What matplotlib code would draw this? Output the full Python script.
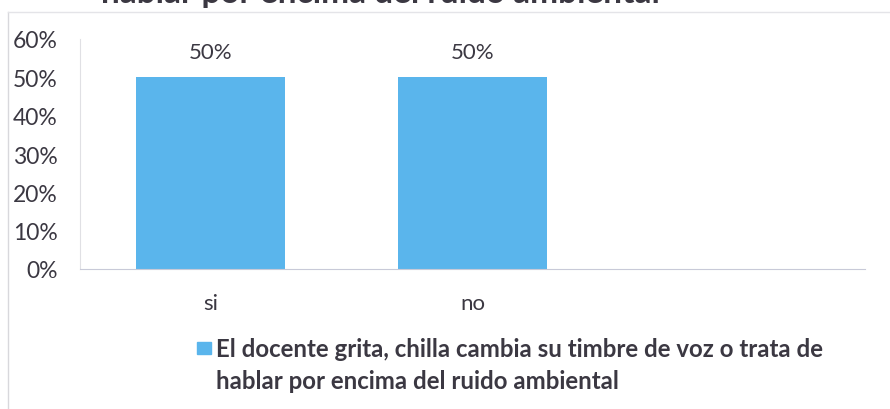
import matplotlib.pyplot as plt
from matplotlib.lines import Line2D
from matplotlib.patches import Rectangle

categories = ["si", "no", ""]
values = [0.50, 0.50, 0.0]
value_labels = ["50%", "50%", ""]
yticks = [0, 0.1, 0.2, 0.3, 0.4, 0.5, 0.6]
ytick_labels = ["0%", "10%", "20%", "30%", "40%", "50%", "60%"]
series_name = ("El docente grita, chilla cambia su timbre de voz o trata de\n"
               "hablar por encima del ruido ambiental")
title = "hablar por encima del ruido ambiental"

plt.rcParams['font.family'] = ['Lato', 'DejaVu Sans']
text_color = "#3b3842"
bar_color = "#5ab5ec"

fig = plt.figure(figsize=(8.9, 4.1), dpi=100)
ax = fig.add_axes([80 / 890, 1 - 270 / 410, 785 / 890, 230 / 410])

x = list(range(len(categories)))
ax.bar(x[:2], values[:2], width=0.57, color=bar_color)

for xi, v, lab in zip(x, values, value_labels):
    if lab:
        ax.text(xi, v + 0.067, lab, ha="center", va="center", fontsize=16, color=text_color)

ax.set_xlim(-0.5, 2.5)
ax.set_ylim(0, 0.6)
ax.set_yticks(yticks)
ax.set_yticklabels(ytick_labels, fontsize=16.5, color=text_color)
ax.set_xticks(x)
ax.set_xticklabels(categories, fontsize=16, color=text_color)
ax.tick_params(axis="both", length=0)
ax.tick_params(axis="y", pad=16)
ax.tick_params(axis="x", pad=17)

for side in ["top", "right"]:
    ax.spines[side].set_visible(False)
ax.spines["left"].set_color("#e0e0e4")
ax.spines["bottom"].set_color("#c8cad8")

# title of the scanned chart, cut off at the top edge
fig.text(101 / 890, 1 - 3 / 410, title, ha="left", va="baseline", fontsize=24,
         fontweight="bold", color=text_color)

# outer chart frame from the scan
fig.add_artist(Line2D([8 / 890, 8 / 890], [0, 1 - 13 / 410], color="#d8d8dc", lw=1))
fig.add_artist(Line2D([8 / 890, 1], [1 - 13 / 410, 1 - 13 / 410], color="#e4e4e8", lw=1))

# legend: square key + two-line label
fig.add_artist(Rectangle((197 / 890, 1 - 355 / 410), 14 / 890, 12 / 410,
                         transform=fig.transFigure, color=bar_color))
fig.text(216 / 890, 1 - 338 / 410, series_name, ha="left", va="top",
         fontsize=17.3, fontweight="bold", color=text_color, linespacing=1.5)

fig.savefig("out.png", dpi=100)
